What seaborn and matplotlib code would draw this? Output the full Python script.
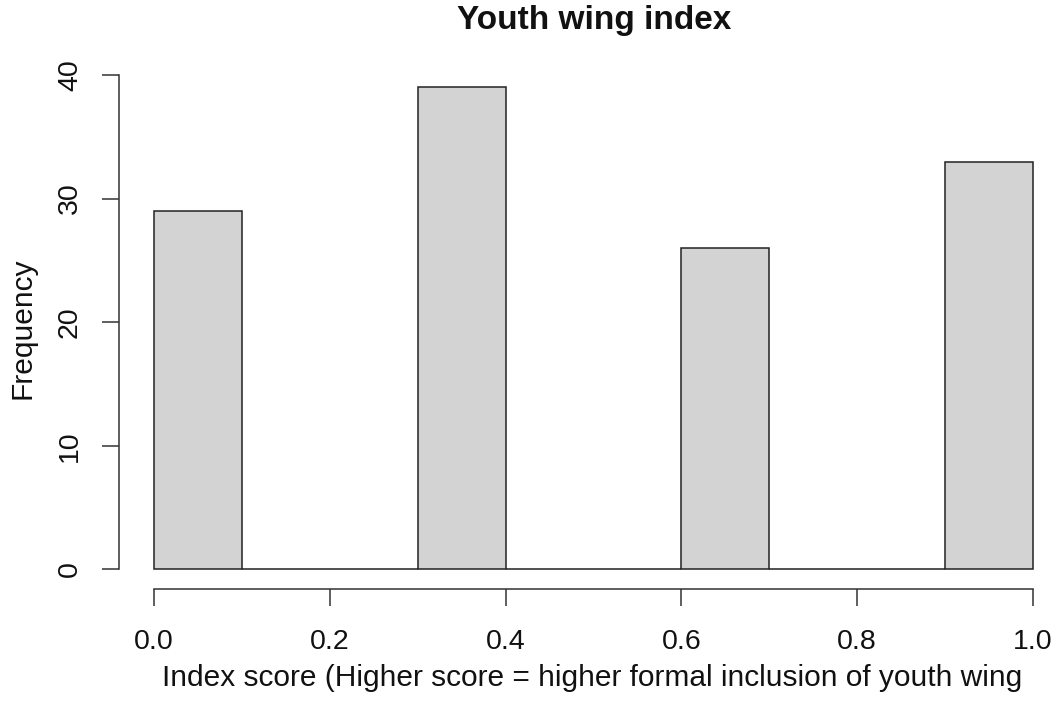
import matplotlib
matplotlib.use("Agg")
import matplotlib.pyplot as plt
import seaborn as sns
import pandas as pd

# index scores observed and how many cases at each score
scores = [0.0, 0.333, 0.667, 1.0]
counts = [29, 39, 26, 33]
bin_edges = [0.0, 0.1, 0.2, 0.3, 0.4, 0.5, 0.6, 0.7, 0.8, 0.9, 1.0]
x_ticks = [0.0, 0.2, 0.4, 0.6, 0.8, 1.0]
y_ticks = [0, 10, 20, 30, 40]

df = pd.DataFrame({"score": scores, "n": counts})

sns.set_style("white")
plt.rcParams["font.family"] = ["Liberation Sans", "DejaVu Sans"]

fig = plt.figure(figsize=(10.6, 7.05), dpi=100)
ax = fig.add_axes([0.1123, 0.1651, 0.8953, 0.7383])

sns.histplot(data=df, x="score", weights="n", bins=bin_edges,
             color="#D3D3D3", edgecolor="#222222", linewidth=1.1,
             alpha=1, ax=ax)

ax.set_xlim(-0.04, 1.04)
ax.set_ylim(-1.56, 40.56)

for s in ["top", "right"]:
    ax.spines[s].set_visible(False)
ax.spines["left"].set_bounds(0, 40)
ax.spines["bottom"].set_bounds(0, 1)
for s in ["left", "bottom"]:
    ax.spines[s].set_color("#333333")
    ax.spines[s].set_linewidth(1.1)

ax.set_xticks(x_ticks)
ax.set_xticklabels([f"{v:.1f}" for v in x_ticks])
ax.set_yticks(y_ticks)
ax.set_yticklabels([str(v) for v in y_ticks], rotation=90, va="center")
ax.tick_params(axis="both", direction="out", length=12, width=1.1,
               color="#333333", labelsize=20.5, labelcolor="#111111",
               bottom=True, left=True)
ax.tick_params(axis="x", pad=17)
ax.tick_params(axis="y", pad=14)

ax.set_xlabel("Index score (Higher score = higher formal inclusion of youth wing",
              fontsize=21.5, color="#111111")
ax.xaxis.set_label_coords(0.5 - (593.5 - 592) / 949, -0.1718)
ax.xaxis.label.set_va("center")
ax.set_ylabel("Frequency", fontsize=21.5, color="#111111")
ax.yaxis.set_label_coords(-0.1022, 0.5)
ax.yaxis.label.set_va("center")

fig.text(594 / 1060, 1 - 20 / 705, "Youth wing index", ha="center", va="center",
         fontsize=24, fontweight="bold", color="#111111")

fig.savefig("out.png", dpi=100)
